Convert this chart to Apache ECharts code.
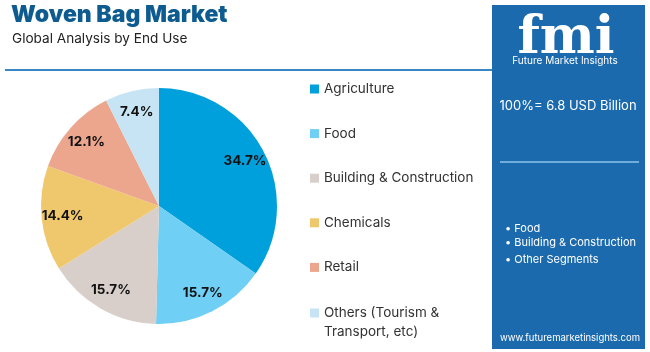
<!DOCTYPE html>
<html>
<head>
<meta charset="utf-8">
<style>
  html, body { margin: 0; padding: 0; background: #fff; }
  #chart { width: 650px; height: 352px; }
</style>
<script src="https://cdn.jsdelivr.net/npm/echarts@6/dist/echarts.min.js"></script>
</head>
<body>
<div id="chart"></div>
<script>
// ---------- data ----------
var segments = ['Agriculture', 'Food', 'Building & Construction', 'Chemicals', 'Retail', 'Others (Tourism & Transport, etc)'];
var shares   = [34.7, 15.7, 15.7, 14.4, 12.1, 7.4];
var colors   = ['#00a0dc', '#70cff4', '#d8cfcb', '#efc86e', '#eca68e', '#c6e4f3'];
var keySegments = ['Food', 'Building & Construction', 'Other Segments'];

var panelBlue = '#1b6aad';
var font = 'Inter, "Open Sans", sans-serif';

var chart = echarts.init(document.getElementById('chart'));

var pieData = segments.map(function (name, i) {
  return { name: name, value: shares[i], itemStyle: { color: colors[i] } };
});

// bullets on the right panel
var bulletTexts = keySegments.map(function (s, i) {
  return {
    type: 'text',
    style: { text: '\u2022 ' + s, x: 505, y: [223, 237, 254][i], fill: '#fff', font: '11px ' + font }
  };
});

var legendText = { fontFamily: font, fontSize: 13.5, color: '#333', lineHeight: 18 };

var option = {
  animation: false,
  title: [
    {
      text: 'Woven Bag Market',
      left: 11, top: 4, padding: 0,
      textStyle: { fontFamily: font, fontSize: 23, fontWeight: 900, color: '#0d5b8f' }
    },
    {
      text: 'Global Analysis by End Use',
      left: 12, top: 32, padding: 0,
      textStyle: { fontFamily: font, fontSize: 13.6, fontWeight: 'normal', color: '#222' }
    }
  ],
  legend: [
    {
      orient: 'vertical',
      left: 310, top: 80,
      padding: 0,
      itemWidth: 9, itemHeight: 9,
      itemGap: 26.6,
      icon: 'rect',
      data: segments.slice(0, 5),
      textStyle: legendText
    },
    {
      // long label wraps onto two lines, icon stays with the first line
      orient: 'vertical',
      left: 310, top: 287,
      padding: 0,
      itemWidth: 9, itemHeight: 9,
      icon: 'rect',
      data: segments.slice(5),
      formatter: function () {
        return '{e| }\n{t|Others (Tourism &}\n{t|Transport, etc)}';
      },
      textStyle: {
        fontFamily: font, fontSize: 13.5, color: '#333',
        rich: {
          e: { lineHeight: 19, fontSize: 13.5 },
          t: { lineHeight: 19, fontSize: 13.5, fontFamily: font, color: '#333' }
        }
      }
    }
  ],
  graphic: [
    { type: 'line', shape: { x1: 5, y1: 70, x2: 492, y2: 70 }, style: { stroke: '#3a86c4', lineWidth: 2 } },
    { type: 'rect', shape: { x: 492, y: 5, width: 153, height: 344 }, style: { fill: panelBlue } },
    { type: 'text', style: { text: 'fmi', x: 566, y: 13, align: 'center', fill: '#fff', font: 'bold 52px "DejaVu Serif", serif' } },
    { type: 'text', style: { text: 'Future Market Insights', x: 565, y: 56, align: 'center', fill: '#fff', font: '10px ' + font } },
    { type: 'text', style: { text: '100%= 6.8 USD Billion', x: 568, y: 100, align: 'center', fill: '#fff', font: '13px ' + font } },
    { type: 'line', shape: { x1: 500, y1: 162, x2: 639, y2: 162 }, style: { stroke: '#8cc4ec', lineWidth: 1.5 } },
    { type: 'text', style: { text: 'www.futuremarketinsights.com', x: 570, y: 333, align: 'center', fill: '#fff', font: '9.5px ' + font } }
  ].concat(bulletTexts),
  series: [
    {
      type: 'pie',
      center: [159, 206],
      radius: [0, 118],
      startAngle: 90,
      clockwise: true,
      label: { show: false },
      labelLine: { show: false },
      data: pieData
    },
    {
      // label ring: places the percentages near the outer edge
      type: 'pie',
      center: [159, 206],
      radius: [70, 118],
      startAngle: 90,
      clockwise: true,
      silent: true,
      itemStyle: { color: 'rgba(0,0,0,0)' },
      label: {
        show: true,
        position: 'inside',
        formatter: '{c}%',
        fontFamily: font,
        fontSize: 13.5,
        fontWeight: 'bold',
        color: '#111'
      },
      labelLine: { show: false },
      data: segments.map(function (name, i) {
        return { name: name, value: shares[i], itemStyle: { color: 'rgba(0,0,0,0)' } };
      })
    }
  ]
};

chart.setOption(option);
</script>
</body>
</html>
